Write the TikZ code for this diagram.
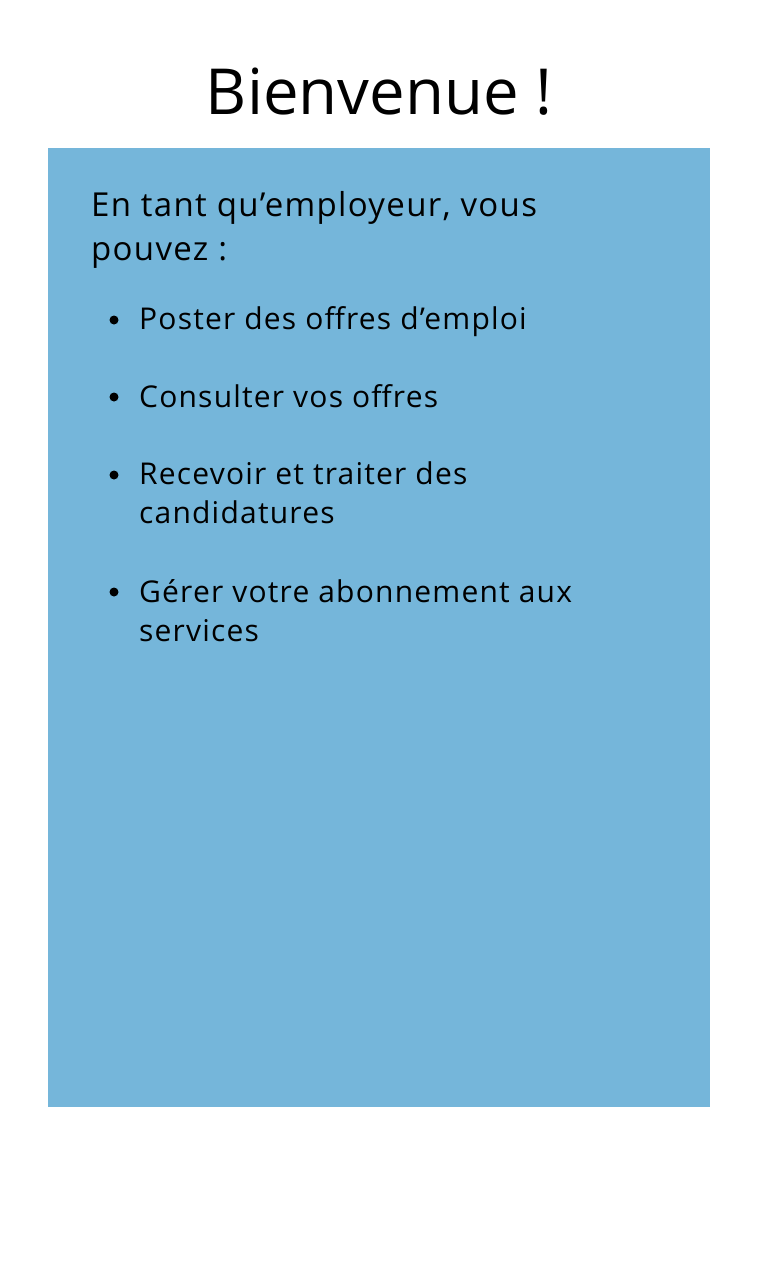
\documentclass[tikz,border=0pt]{standalone}
\usepackage{fontspec}
\setmainfont{Open Sans}
\newfontfamily\bodyfont[LetterSpace=4]{Open Sans}
\definecolor{panelblue}{RGB}{117,182,218}
\tikzset{
  line/.style={anchor=base west,inner sep=0pt},
  item/.style={line,font=\bodyfont\fontsize{30}{39}\selectfont},
  dot/.style={circle,fill=black,inner sep=0pt,minimum size=9pt},
}
\begin{document}
\begin{tikzpicture}[x=1pt,y=-1pt]
        \useasboundingbox(0,0)rectangle(757,1285);
        \fill[panelblue](48,148)rectangle(710,1107);
        \node(title)at(379,114)[anchor=base,inner sep=0pt,font=\fontsize{63.5}{64}\selectfont]{Bienvenue !};
        \node(intro1)at(91,216)[line,font=\bodyfont\fontsize{33}{44}\selectfont]{En tant qu’employeur, vous};
        \node(intro2)at(91,260)[line,font=\bodyfont\fontsize{33}{44}\selectfont]{pouvez :};
        \node(d1)at(114,320)[dot]{};
        \node(poster)at(139,329)[item]{Poster des offres d’emploi};
        \node(d2)at(114,397)[dot]{};
        \node(consulter)at(139,407)[item]{Consulter vos offres};
        \node(d3)at(114,475)[dot]{};
        \node(recevoir1)at(139,484)[item]{Recevoir et traiter des};
        \node(recevoir2)at(139,523)[item]{candidatures};
        \node(d4)at(114,592)[dot]{};
        \node(gerer1)at(139,602)[item]{Gérer votre abonnement aux};
        \node(gerer2)at(139,641)[item]{services};
    \end{tikzpicture}
\end{document}
